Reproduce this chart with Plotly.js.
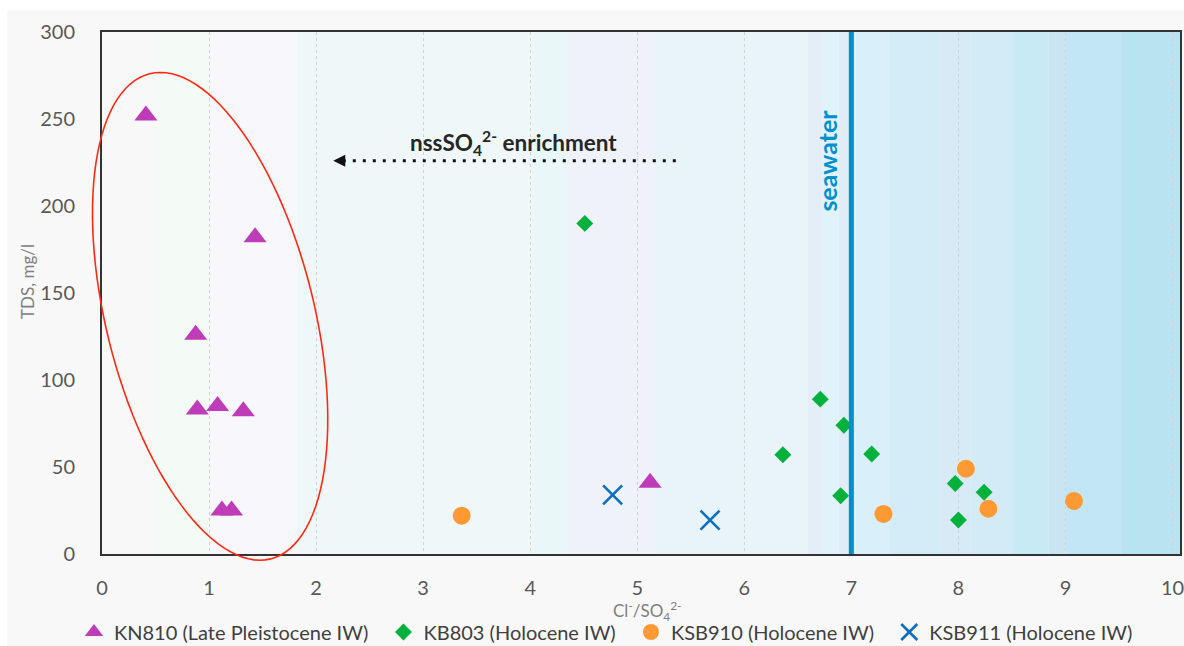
<!DOCTYPE html>
<html>
<head>
<meta charset="utf-8">
<script src="https://cdn.plot.ly/plotly-3.0.1.min.js"></script>
<style>html,body{margin:0;padding:0;background:#fff;}#chart{width:1184px;height:646px;}</style>
</head>
<body>
<div id="chart"></div>
<script>
// ---- Data ----
const kn810_x = [0.41, 1.43, 0.875, 0.89, 1.08, 1.32, 1.12, 1.21, 5.12];
const kn810_y = [252, 182, 126, 83, 85, 82, 25, 25, 41];
const kb803_x = [4.51, 6.71, 6.93, 6.36, 7.19, 6.90, 7.97, 8.24, 8.00];
const kb803_y = [190, 89, 74, 57, 57.5, 33.5, 40.5, 35.5, 19.5];
const ksb910_x = [3.36, 7.30, 8.07, 8.28, 9.08];
const ksb910_y = [22, 23, 49, 26, 30.5];
const ksb911_x = [4.77, 5.68];
const ksb911_y = [34, 19.5];
const seriesNames = ["KN810 (Late Pleistocene IW)", "KB803 (Holocene IW)", "KSB910 (Holocene IW)", "KSB911 (Holocene IW)"];
const seawaterRatio = 7;
const xTicks = [0,1,2,3,4,5,6,7,8,9,10];
const yTicks = [0,50,100,150,200,250,300];

// ---- Layout constants ----
const W = 1184, H = 646, ML = 102, MR = 4, MT = 32, MB = 92;
const XMAX = 10.07, YMAX = 300;
const PW = W - ML - MR, PH = H - MT - MB;
const pxX = PW / XMAX, pxY = PH / YMAX;
const px2paperX = p => (p - ML) / PW;
const px2paperY = p => (H - MB - p) / PH;

// background stripes (styling)
const stripeEdges = [0, 0.51, 1.0, 1.82, 4.03, 4.35, 5.16, 6.59, 6.73, 6.88, 7.0, 7.36, 7.82, 8.11, 8.51, 8.84, 9.0, 9.52, XMAX];
const stripeColors = ['#f8f8f8','#f4faf6','#f8f8fc','#eff7f9','#e9f7f8','#eff2fa','#e8f4fa','#e3eef9','#e0f2fa','#e0ecf8','#d9eff9','#d2ecf8','#d8eaf6','#d3ebf7','#c8eaf4','#c9e4f3','#c2e6f5','#b8e4f2'];

const shapes = [];
shapes.push({type:'rect', xref:'paper', yref:'paper', layer:'below',
  x0: px2paperX(7), x1: px2paperX(W), y0: px2paperY(H), y1: px2paperY(10),
  fillcolor:'#f8f8f8', line:{width:0}});
for (let i = 0; i < stripeColors.length; i++) {
  shapes.push({type:'rect', xref:'x', yref:'y', layer:'below',
    x0: stripeEdges[i], x1: stripeEdges[i+1], y0: 0, y1: YMAX,
    fillcolor: stripeColors[i], line:{width:0}});
}
shapes.push({type:'line', xref:'x', yref:'y', layer:'above',
  x0: seawaterRatio, x1: seawaterRatio, y0: 0, y1: YMAX, line:{color:'#0090cf', width:5}});
shapes.push({type:'line', xref:'x', yref:'y', layer:'above',
  x0: 5.36, x1: 2.26, y0: 226, y1: 226, line:{color:'#111', width:3, dash:'3px,7px'}});

const ell = {cx: 1.01, cy: 136.6, a: 250, b: 104, tiltDeg: 14};
(function(){
  const th = ell.tiltDeg*Math.PI/180;
  const ux = Math.sin(th), uy = Math.cos(th);
  const vx = Math.cos(th), vy = -Math.sin(th);
  let d = '';
  const N = 120;
  for (let k = 0; k <= N; k++) {
    const t = 2*Math.PI*k/N;
    const dxp = ell.a*Math.cos(t)*ux + ell.b*Math.sin(t)*vx;
    const dyp = ell.a*Math.cos(t)*uy + ell.b*Math.sin(t)*vy;
    const xd = ell.cx + dxp/pxX;
    const yd = ell.cy - dyp/pxY;
    d += (k===0 ? 'M' : 'L') + (xd/XMAX).toFixed(5) + ',' + (yd/YMAX).toFixed(5);
  }
  d += 'Z';
  shapes.push({type:'path', xref:'paper', yref:'paper', layer:'above', path: d,
    line:{color:'#ff2a14', width:1.6}});
})();

const NB = '\u00a0\u00a0';
const traces = [
  {x: kn810_x, y: kn810_y, name: seriesNames[0] + NB, type:'scatter', mode:'markers',
   marker:{symbol:'triangle-up', size:20, color:'#bf3cb8'}},
  {x: kb803_x, y: kb803_y, name: seriesNames[1] + NB, type:'scatter', mode:'markers',
   marker:{symbol:'diamond', size:13, color:'#00b13c'}},
  {x: ksb910_x, y: ksb910_y, name: seriesNames[2] + NB, type:'scatter', mode:'markers',
   marker:{symbol:'circle', size:18, color:'#ff9933'}},
  {x: ksb911_x, y: ksb911_y, name: seriesNames[3], type:'scatter', mode:'markers',
   marker:{symbol:'x-thin', size:19, color:'#0a6fc2', line:{color:'#0a6fc2', width:2.6}}}
];

const FONT = 'Lato, "Open Sans", sans-serif';
const layout = {
  width: W, height: H,
  margin: {l: ML, r: MR, t: MT, b: MB, autoexpand: false},
  paper_bgcolor: '#ffffff',
  plot_bgcolor: 'rgba(0,0,0,0)',
  font: {family: FONT, color: '#595959', size: 20},
  showlegend: true,
  legend: {orientation:'h', x: px2paperX(74), xanchor:'left', y: px2paperY(632), yanchor:'middle',
    font:{family: FONT, size: 20, color:'#404040'}, bgcolor:'rgba(0,0,0,0)', itemwidth: 30},
  xaxis: {range: [0, XMAX], tickvals: xTicks, ticktext: xTicks.map(String),
    showgrid: true, gridcolor: '#d2d2d2', griddash: '3px,3px', gridwidth: 1,
    zeroline: false, showline: true, mirror: true, linecolor: '#333', linewidth: 2,
    ticks: '', ticklabelstandoff: 15, ticklabeloverflow: 'allow', tickfont:{size:20, color:'#595959'},
    fixedrange: true},
  yaxis: {range: [0, YMAX], tickvals: yTicks, ticktext: yTicks.map(String),
    showgrid: false, zeroline: false, showline: true, mirror: true, linecolor: '#333', linewidth: 2,
    ticks: '', ticklabelstandoff: 21, ticklabeloverflow: 'allow', tickfont:{size:20, color:'#595959'},
    fixedrange: true},
  shapes: shapes,
  annotations: [
    {x: px2paperX(647), y: px2paperY(611), xref:'paper', yref:'paper', showarrow:false, yanchor:'middle',
     text: 'Cl<sup>-</sup>/SO<sub>4</sub><sup>2-</sup>', font:{size:17, color:'#7f7f7f', family: FONT}},
    {x: px2paperX(27), y: px2paperY(282), xref:'paper', yref:'paper', showarrow:false, textangle:-90,
     xanchor:'center', yanchor:'middle',
     text: 'TDS, mg/l', font:{size:17, color:'#7f7f7f', family: FONT}},
    {x: 3.84, y: 236.5, xref:'x', yref:'y', showarrow:false,
     text: '<b>nssSO<sub>4</sub><sup>2-</sup> enrichment</b>', font:{size:22.5, color:'#262626', family: FONT}},
    {x: 2.16, y: 226, xref:'x', yref:'y', showarrow:true, ax: 12, ay: 0, text:'',
     arrowhead: 2, arrowsize: 1.2, arrowwidth: 2, arrowcolor:'#111'},
    {x: seawaterRatio - 0.07, y: 226, xref:'x', yref:'y', showarrow:false, textangle:-90,
     xanchor:'right', yanchor:'middle',
     text:'<b>seawater</b>', font:{size:25, color:'#0090cf', family: FONT}}
  ]
};

Plotly.newPlot('chart', traces, layout, {displayModeBar:false, staticPlot:true});
</script>
</body>
</html>
